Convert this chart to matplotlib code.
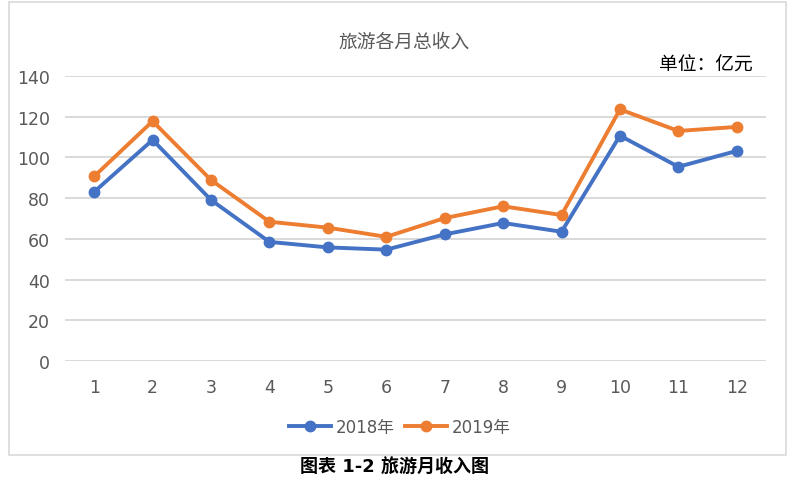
import matplotlib
matplotlib.use("Agg")
import matplotlib.pyplot as plt
from matplotlib.patches import Rectangle

plt.rcParams['font.family'] = ['DejaVu Sans', 'Noto Sans CJK SC']

months = [1, 2, 3, 4, 5, 6, 7, 8, 9, 10, 11, 12]
income_2018 = [83.1, 108.6, 79.1, 58.5, 55.8, 54.7, 62.2, 67.8, 63.5, 110.7, 95.4, 103.2]
income_2019 = [90.7, 117.8, 88.9, 68.4, 65.5, 61.0, 70.2, 76.0, 71.7, 123.6, 113.0, 115.0]
series_names = ["2018年", "2019年"]

W, H = 800, 481
fig = plt.figure(figsize=(8, 4.81), dpi=100)

# outer chart frame
fig.patches.append(Rectangle((9 / W, 1 - 456 / H), 777 / W, 453 / H,
                             transform=fig.transFigure, fill=False,
                             edgecolor="#d9d9d9", linewidth=1.2))

ax = fig.add_axes([65 / W, 1 - 362 / H, 701 / W, 285 / H])
ax.plot(months, income_2018, color="#4472C4", lw=2.8, marker="o", ms=7.5,
        label=series_names[0])
ax.plot(months, income_2019, color="#ED7D31", lw=2.8, marker="o", ms=7.5,
        label=series_names[1])

ax.set_xlim(0.5, 12.5)
ax.set_ylim(0, 140)
ax.set_yticks(range(0, 141, 20))
ax.set_xticks(months)
ax.grid(axis="y", color="#d9d9d9", lw=1.4)
ax.set_axisbelow(True)
for s in ax.spines.values():
    s.set_visible(False)
ax.tick_params(length=0, labelsize=12.5, colors="#595959")
ax.tick_params(axis="y", pad=11)
ax.tick_params(axis="x", pad=12)

fig.text(404 / W, 1 - 42 / H, "旅游各月总收入", ha="center", va="center",
         fontsize=13.5, color="#595959")
fig.text(706 / W, 1 - 65 / H, "单位：亿元", ha="center", va="center",
         fontsize=13.5, color="black")

fig.legend(loc="center", bbox_to_anchor=(400 / W, 1 - 428 / H), ncol=2,
           frameon=False, fontsize=12, handlelength=2.5, columnspacing=0.6,
           handletextpad=0.3, labelcolor="#595959")

fig.text(395 / W, 1 - 468 / H, "图表 1-2 旅游月收入图", ha="center",
         va="center", fontsize=13, fontweight="bold", color="black")

fig.savefig("out.png", dpi=100)
